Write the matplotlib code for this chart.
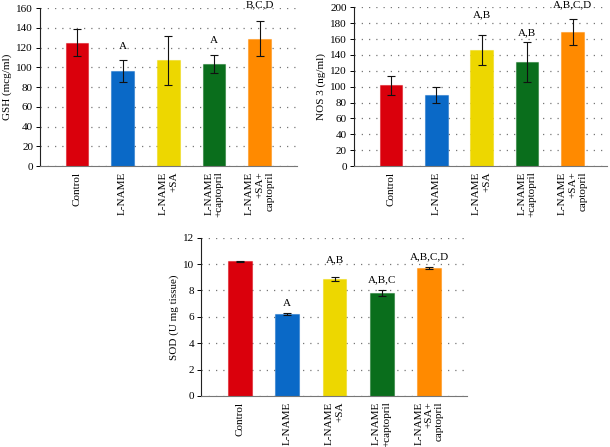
import matplotlib
matplotlib.use("Agg")
import matplotlib.pyplot as plt
import numpy as np

plt.rcParams['font.family'] = ['Liberation Serif', 'DejaVu Serif']

groups = ["Control", "L-NAME", "L-NAME\n+SA", "L-NAME\n+captopril", "L-NAME\n+SA+\ncaptopril"]
colors = ["#DA000C", "#0A69C7", "#EDD700", "#0A6E1C", "#FF8A00"]

gsh_mean = [125, 96, 107, 103, 129]
gsh_err = [14, 11, 25, 9, 18]
gsh_sig = ["", "A", "", "A", "B,C,D"]
gsh_sig_y = [0, 121, 0, 127, 163]

nos_mean = [102, 89, 146, 131, 169]
nos_err = [12, 10, 19, 25, 16]
nos_sig = ["", "", "A,B", "A,B", "A,B,C,D"]
nos_sig_y = [0, 0, 190, 168.5, 203]

sod_mean = [10.23, 6.19, 8.87, 7.83, 9.70]
sod_err = [0.04, 0.07, 0.18, 0.24, 0.07]
sod_sig = ["", "A", "A,B", "A,B,C", "A,B,C,D"]
sod_sig_y = [0, 7.05, 10.36, 8.79, 10.56]

fig = plt.figure(figsize=(6.1, 4.47), dpi=100)

def panel(rect, means, errs, sig, sig_y, ylim, step, ylabel, xlim):
    ax = fig.add_axes(rect)
    x = np.arange(len(groups))
    ax.bar(x, means, width=0.5, color=colors, edgecolor=[matplotlib.colors.to_rgba(c, 0.45) for c in colors],
           linewidth=0.8, zorder=2)
    ax.errorbar(x, means, yerr=errs, fmt='none', ecolor='#111111', elinewidth=0.8,
                capsize=3, capthick=0.8, zorder=3)
    for xi, s, yy in zip(x, sig, sig_y):
        if s:
            ax.text(xi, yy, s, ha='center', va='center', fontsize=8, clip_on=False)
    ax.set_ylim(*ylim)
    ax.set_xlim(*xlim)
    ax.set_yticks(np.arange(ylim[0], ylim[1] + step / 2, step))
    ax.set_xticks(x)
    ax.set_xticklabels(groups, rotation=90, fontsize=8, ha='center', va='top',
                       multialignment='right')
    ax.tick_params(axis='x', length=0, pad=4)
    ax.tick_params(axis='y', length=3, width=0.7, labelsize=8, pad=2, direction='out')
    ax.yaxis.grid(True, linestyle=(0, (1, 4.8)), color='#777777', linewidth=0.9, zorder=0)
    ax.set_axisbelow(True)
    for sp in ['top', 'right']:
        ax.spines[sp].set_visible(False)
    ax.spines['left'].set_color('#222222')
    ax.spines['left'].set_linewidth(0.8)
    ax.spines['bottom'].set_color('#777777')
    ax.spines['bottom'].set_linewidth(0.8)
    ax.set_ylabel(ylabel, fontsize=8, labelpad=3)
    return ax

panel([0.0656, 0.6286, 0.4213, 0.3535], gsh_mean, gsh_err, gsh_sig, gsh_sig_y,
      (0, 160), 20, "GSH (mcg/ml)", (-0.81, 4.82))
panel([0.5803, 0.6286, 0.4148, 0.3550], nos_mean, nos_err, nos_sig, nos_sig_y,
      (0, 200), 20, "NOS 3 (ng/ml)", (-0.815, 4.76))
panel([0.3295, 0.1141, 0.4360, 0.3541], sod_mean, sod_err, sod_sig, sod_sig_y,
      (0, 12), 2, "SOD (U mg tissue)", (-0.825, 4.80))

fig.savefig("out.png", dpi=100)
